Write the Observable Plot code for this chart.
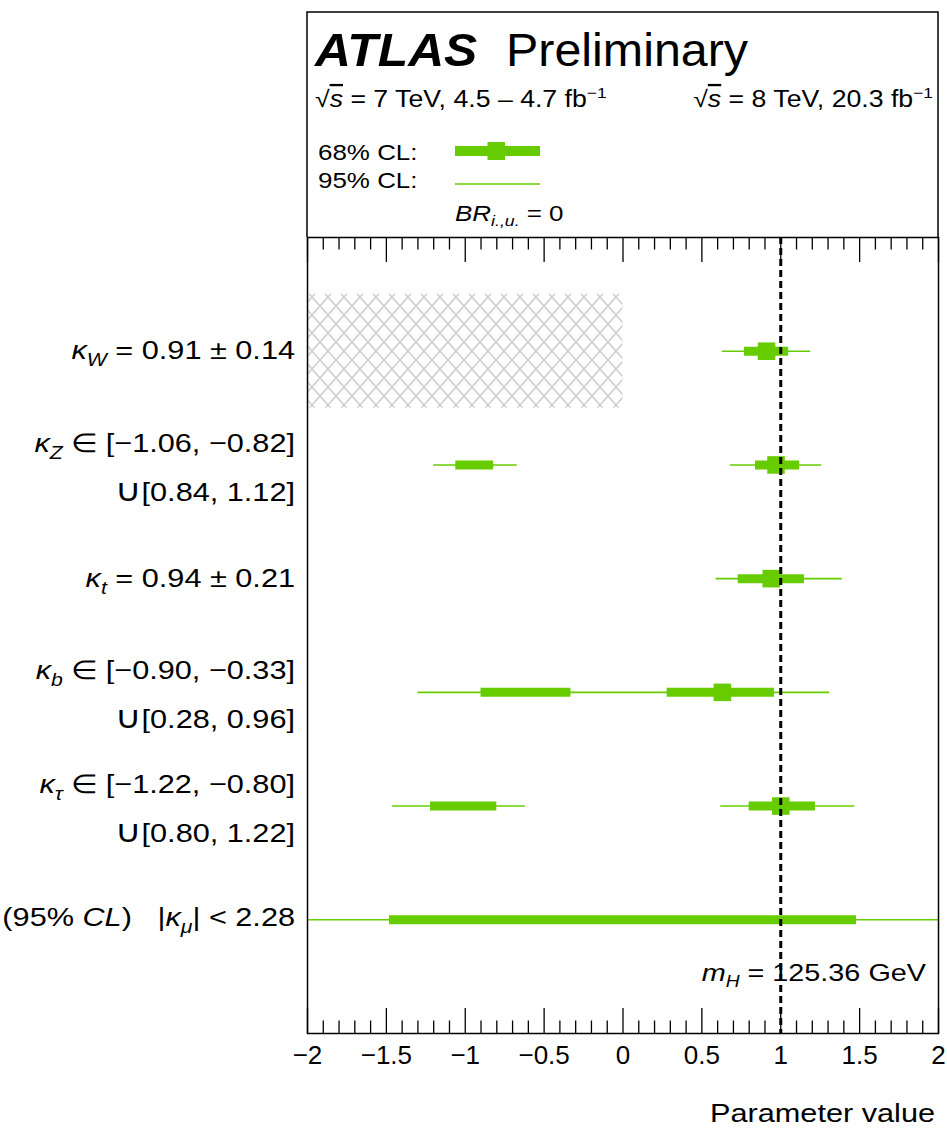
<!DOCTYPE html>
<html>
<head>
<meta charset="utf-8">
<script src="https://cdn.jsdelivr.net/npm/d3@7"></script>
<script src="https://cdn.jsdelivr.net/npm/@observablehq/plot@0.6"></script>
<style>
  html, body { margin: 0; padding: 0; background: #fff; }
  #chart svg { display: block; overflow: visible; }
</style>
</head>
<body>
<div id="chart"></div>
<script>
// Coupling modifiers, top to bottom, and their row positions on the y scale
const couplings = ["W", "Z", "t", "b", "τ", "μ"];
const rowPos = [1, 2, 3, 4, 5, 6];
// How each row's label is written: "pm" = central ± error, "in" = union of intervals, "lt" = upper limit
const labelKind = ["pm", "in", "pm", "in", "in", "lt"];
// Best-fit values (no central value for κμ)
const central = [0.91, 0.97, 0.94, 0.63, 1.00, null];
// 68% CL intervals per row
const cl68 = [
  [[0.77, 1.05]],
  [[-1.06, -0.82], [0.84, 1.12]],
  [[0.73, 1.15]],
  [[-0.90, -0.33], [0.28, 0.96]],
  [[-1.22, -0.80], [0.80, 1.22]],
  [[-1.48, 1.48]]
];
// 95% CL intervals per row
const cl95 = [
  [[0.63, 1.19]],
  [[-1.20, -0.67], [0.68, 1.26]],
  [[0.59, 1.39]],
  [[-1.30, 1.31]],
  [[-1.46, -0.62], [0.62, 1.47]],
  [[-2.28, 2.28]]
];
// Hatched region: negative κW not probed
const hatched = [{row: 1, x1: -2, x2: 0}];
// Standard Model expectation
const smValue = [1];
// Axis ticks
const majorTicks = [-2, -1.5, -1, -0.5, 0, 0.5, 1, 1.5, 2];
const minorTicks = [-1.9, -1.8, -1.7, -1.6, -1.4, -1.3, -1.2, -1.1, -0.9, -0.8, -0.7, -0.6,
  -0.4, -0.3, -0.2, -0.1, 0.1, 0.2, 0.3, 0.4, 0.6, 0.7, 0.8, 0.9, 1.1, 1.2, 1.3, 1.4,
  1.6, 1.7, 1.8, 1.9];

const W = 947, H = 1133;
const mL = 307, mR = 9, mT = 237, mB = 100;
const plotH = H - mT - mB;
const green = "#66cc00";
const font = "'Liberation Sans', Arial, Helvetica, sans-serif";
const stretch = 1.18; // wide lettering of the labels

const seg68 = cl68.flatMap((segs, i) => segs.map(([lo, hi]) => ({row: rowPos[i], lo, hi})));
const seg95 = cl95.flatMap((segs, i) => segs.map(([lo, hi]) => ({row: rowPos[i], lo, hi})));
const centers = central.map((c, i) => ({row: rowPos[i], c})).filter(d => d.c != null);

const f2 = d3.format(".2f");
const tickFmt = d => d3.format("")(d);

// Label segments: [text, style] with style "" (roman), "i" (italic), "s" (italic subscript), "u" (union sign)
const rowLabels = couplings.map((k, i) => {
  const kappa = [["κ", "i"], [k, "s"]];
  if (labelKind[i] === "pm") {
    const [lo, hi] = cl68[i][0];
    return [[...kappa, [` = ${f2(central[i])} ± ${f2(hi - central[i])}`, ""]]];
  }
  if (labelKind[i] === "in") {
    const [[a, b], [c, d]] = cl68[i];
    return [[...kappa, [` ∈ [${f2(a)}, ${f2(b)}]`, ""]], [["∪", "u"], [`[${f2(c)}, ${f2(d)}]`, ""]]];
  }
  return [[["(95% ", ""], ["CL", "i"], [")   |", ""], ...kappa, [`| < ${f2(cl95[i][0][1])}`, ""]]];
});

function appendSegments(text, segs, size) {
  let shift = 0;
  for (const [s, st] of segs) {
    const t = text.append("tspan").text(s);
    const target = st === "s" ? Math.round(size * 0.28) : 0;
    if (target !== shift) { t.attr("dy", target - shift); shift = target; }
    if (st === "i" || st === "s") t.attr("font-style", "italic");
    if (st === "s") t.attr("font-size", Math.round(size * 0.7));
    if (st === "u") t.attr("font-family", "'DejaVu Sans', sans-serif").attr("font-size", Math.round(size * 1.2));
  }
}

// Text placed at (x, y) and stretched horizontally about its anchor
function wideText(g, x, y, size, anchor, sx = stretch) {
  return g.append("text")
    .attr("transform", `translate(${x},${y}) scale(${sx},1)`)
    .attr("font-size", size)
    .attr("text-anchor", anchor);
}

// Pattern for the hatched area
const hatchDefs = () => {
  const g = d3.create("svg:g");
  const p = g.append("defs").append("pattern")
    .attr("id", "xhatch").attr("patternUnits", "userSpaceOnUse")
    .attr("width", 16).attr("height", 18);
  p.append("path").attr("d", "M0,0L16,18M16,0L0,18")
    .attr("stroke", "#cfcfcf").attr("stroke-width", 1.6).attr("fill", "none");
  return g.node();
};

// Row labels to the left of the frame, placed with the y scale
const labelMark = (index, {y}) => {
  const size = 26;
  const g = d3.create("svg:g").attr("font-family", font).attr("fill", "#000");
  rowLabels.forEach((lines, i) => {
    const cy = y(rowPos[i]);
    const offs = lines.length === 1 ? [labelKind[i] === "lt" ? 7 : 8.5] : [-12.5, 36.5];
    lines.forEach((segs, j) => {
      const t = wideText(g, mL - 12, cy + offs[j], size, "end");
      appendSegments(t, segs, size);
    });
  });
  return g.node();
};

// Experiment box above the frame: title, energies and legend
const headerMark = () => {
  const g = d3.create("svg:g").attr("font-family", font).attr("fill", "#000").attr("text-anchor", "start");
  const left = mL, right = W - mR;
  g.append("path").attr("d", `M${left},${mT}V12H${right}V${mT}`)
    .attr("fill", "none").attr("stroke", "#000").attr("stroke-width", 1.5);
  wideText(g, 315, 66, 47, "start", 1.06)
    .attr("font-weight", "bold").attr("font-style", "italic").text("ATLAS");
  wideText(g, 506, 66, 47, "start", 1.03).text("Preliminary");

  const energy = (x, anchor, rest) => {
    const t = wideText(g, x, 107, 23, anchor, 1.16);
    t.append("tspan").text("√");
    t.append("tspan").attr("font-style", "italic").style("text-decoration", "overline").text("s");
    t.append("tspan").text(rest);
    t.append("tspan").attr("dy", -9).attr("font-size", 15).text("−1");
  };
  energy(315, "start", " = 7 TeV, 4.5 – 4.7 fb");
  energy(933, "end", " = 8 TeV, 20.3 fb");

  wideText(g, 318, 160, 22, "start").text("68% CL:");
  wideText(g, 318, 188, 22, "start").text("95% CL:");
  g.append("line").attr("x1", 455).attr("x2", 540).attr("y1", 151).attr("y2", 151)
    .attr("stroke", green).attr("stroke-width", 10);
  g.append("rect").attr("x", 487.5).attr("y", 142).attr("width", 17.5).attr("height", 18).attr("fill", green);
  g.append("line").attr("x1", 455).attr("x2", 540).attr("y1", 184).attr("y2", 184)
    .attr("stroke", green).attr("stroke-width", 1.5);

  const br = wideText(g, 455, 221, 22, "start");
  br.append("tspan").attr("font-style", "italic").text("BR");
  br.append("tspan").attr("font-style", "italic").attr("font-size", 15).attr("dy", 5).text("i.,u.");
  br.append("tspan").attr("dy", -5).text(" = 0");
  return g.node();
};

// Higgs mass annotation and axis title
const annotMark = () => {
  const g = d3.create("svg:g").attr("font-family", font).attr("fill", "#000");
  const m = wideText(g, 926, 981, 24, "end", 1.2);
  m.append("tspan").attr("font-style", "italic").text("m");
  m.append("tspan").attr("font-style", "italic").attr("font-size", 16).attr("dy", 6).text("H");
  m.append("tspan").attr("dy", -6).text(" = 125.36 GeV");
  wideText(g, 935, 1122, 26, "end").text("Parameter value");
  return g.node();
};

const chart = Plot.plot({
  width: W,
  height: H,
  marginLeft: mL,
  marginRight: mR,
  marginTop: mT,
  marginBottom: mB,
  x: {domain: [-2, 2]},
  y: {domain: [0, 7], reverse: true, axis: null},
  style: {fontFamily: font, fontSize: "26px", color: "#000", background: "#fff", overflow: "visible"},
  marks: [
    hatchDefs,
    Plot.rect(hatched, {x1: "x1", x2: "x2", y1: d => d.row - 0.5, y2: d => d.row + 0.5, fill: "url(#xhatch)"}),
    Plot.ruleY(seg95, {y: "row", x1: "lo", x2: "hi", stroke: green, strokeWidth: 1.6, clip: true}),
    Plot.ruleY(seg68, {y: "row", x1: "lo", x2: "hi", stroke: green, strokeWidth: 9}),
    Plot.dot(centers, {x: "c", y: "row", symbol: "square", r: 9.9, fill: green, stroke: null}),
    annotMark,
    Plot.ruleX(smValue, {stroke: "#000", strokeWidth: 3, strokeDasharray: "7,4"}),
    Plot.ruleX(minorTicks, {stroke: "#000", strokeWidth: 1.3, insetTop: plotH - 12.5}),
    Plot.ruleX(majorTicks, {stroke: "#000", strokeWidth: 1.3, insetTop: plotH - 25}),
    Plot.ruleX(minorTicks, {stroke: "#000", strokeWidth: 1.3, insetBottom: plotH - 12.5}),
    Plot.ruleX(majorTicks, {stroke: "#000", strokeWidth: 1.3, insetBottom: plotH - 25}),
    Plot.axisX({ticks: majorTicks, tickSize: 0, tickPadding: 12, tickFormat: tickFmt, label: null}),
    Plot.frame({stroke: "#000", strokeWidth: 1.5}),
    labelMark,
    headerMark
  ]
});

document.getElementById("chart").append(chart);
</script>
</body>
</html>
